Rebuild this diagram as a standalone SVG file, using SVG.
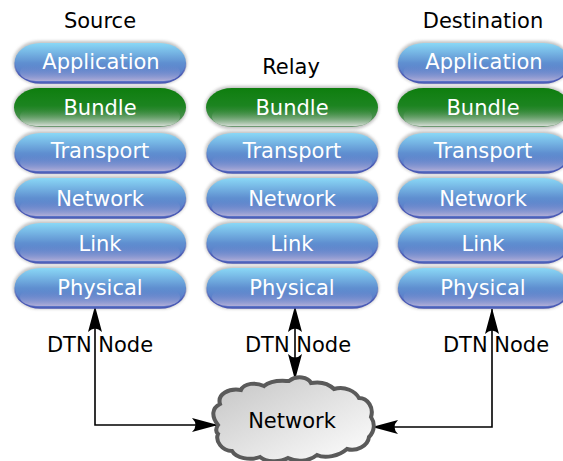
<svg xmlns="http://www.w3.org/2000/svg" xmlns:xlink="http://www.w3.org/1999/xlink" width="563" height="461" viewBox="0 0 563 461">
<style>
text{font-family:"DejaVu Sans",sans-serif;font-size:21px;text-anchor:middle}
.t{fill:#fff}.k{fill:#000}
.wire{fill:none;stroke:#000;stroke-width:1.6}
.shadow{fill:#888;opacity:.5;filter:url(#blur)}
.blue{fill:url(#gBlue);stroke:url(#gEdge);stroke-width:1.5}
.green{fill:url(#gGreen)}
.glowB{fill:url(#gGlowB)}
.glowG{fill:url(#gGlowG)}
.cloud{fill:url(#gCloud);stroke:#5a5a5a;stroke-width:4}
</style>
<defs>
<filter id="blur" x="-10%" y="-30%" width="120%" height="160%"><feGaussianBlur stdDeviation="1.6"/></filter>
<linearGradient id="gEdge" x1="0" y1="0" x2="0" y2="1"><stop offset=".45" stop-color="#4a5ab5" stop-opacity="0"/><stop offset=".8" stop-color="#4a5ab5"/></linearGradient>
<linearGradient id="gBlue" x1="0" y1="0" x2="0" y2="1"><stop offset="0" stop-color="#8ad8f6"/><stop offset=".5" stop-color="#5f8fd0"/><stop offset="1" stop-color="#5a70c4"/></linearGradient>
<linearGradient id="gGlowB" x1="0" y1="0" x2="0" y2="1"><stop offset=".1" stop-color="#6488cc" stop-opacity="0"/><stop offset="1" stop-color="#b0aed8"/></linearGradient>
<linearGradient id="gGreen" x1="0" y1="0" x2="0" y2="1"><stop offset="0" stop-color="#0e7e0e"/><stop offset=".45" stop-color="#1c8420"/><stop offset="1" stop-color="#6f9a74"/></linearGradient>
<linearGradient id="gGlowG" x1="0" y1="0" x2="0" y2="1"><stop offset=".1" stop-color="#3a8a3e" stop-opacity="0"/><stop offset="1" stop-color="#d4dcd4"/></linearGradient>
<linearGradient id="gCloud" x1="0" y1="0" x2="1" y2="1"><stop offset="0" stop-color="#c4c4c4"/><stop offset="1" stop-color="#fff"/></linearGradient>
<marker id="head" markerUnits="userSpaceOnUse" viewBox="0 0 26 14" markerWidth="26" markerHeight="14" refX="25" refY="7" orient="auto-start-reverse"><path d="M26 7 L0 0 Q7 7 0 14Z" fill="#000"/></marker>
<g id="pB"><rect class="shadow" x="-1" y="-2" width="174" height="43" rx="26" ry="21"/><rect class="blue" x="0.500" y="0" width="171.500" height="40" rx="26" ry="20"/><rect class="glowB" x="6" y="20" width="160" height="18" rx="16" ry="9"/></g>
<g id="pG"><rect class="shadow" x="-1" y="-2" width="174" height="43" rx="26" ry="21"/><rect class="green" x="0" y="0" width="172" height="39" rx="26" ry="19.500"/><rect class="glowG" x="6" y="19" width="160" height="19" rx="16" ry="9.500"/></g>
</defs>
<rect width="563" height="461" fill="#fff"/>
<g id="connectors">
<path class="wire" d="M95 307V425H217" marker-start="url(#head)" marker-end="url(#head)"/>
<path class="wire" d="M295 307V379" marker-start="url(#head)" marker-end="url(#head)"/>
<path class="wire" d="M492 309V427H373" marker-start="url(#head)" marker-end="url(#head)"/>
</g>
<g id="labels">
<text class="k" x="100" y="27.500">Source</text>
<text class="k" x="291" y="73.500">Relay</text>
<text class="k" x="483" y="27.500">Destination</text>
<text class="k" x="100" y="351.500">DTN Node</text>
<text class="k" x="298" y="351.500">DTN Node</text>
<text class="k" x="496" y="351.500">DTN Node</text>
</g>
<g id="source">
<g id="s-app"><use href="#pB" x="14" y="43"/><text class="t" x="101" y="68.500">Application</text></g>
<g id="s-bundle"><use href="#pG" x="14" y="88"/><text class="t" x="100" y="114.500">Bundle</text></g>
<g id="s-transport"><use href="#pB" x="14" y="133"/><text class="t" x="100" y="157.500">Transport</text></g>
<g id="s-network"><use href="#pB" x="14" y="178"/><text class="t" x="100" y="205.500">Network</text></g>
<g id="s-link"><use href="#pB" x="14" y="223"/><text class="t" x="100" y="250.500">Link</text></g>
<g id="s-physical"><use href="#pB" x="14" y="268"/><text class="t" x="100" y="294.500">Physical</text></g>
</g>
<g id="relay">
<g id="r-bundle"><use href="#pG" x="206" y="88"/><text class="t" x="292" y="114.500">Bundle</text></g>
<g id="r-transport"><use href="#pB" x="206" y="133"/><text class="t" x="292" y="157.500">Transport</text></g>
<g id="r-network"><use href="#pB" x="206" y="178"/><text class="t" x="292" y="205.500">Network</text></g>
<g id="r-link"><use href="#pB" x="206" y="223"/><text class="t" x="292" y="250.500">Link</text></g>
<g id="r-physical"><use href="#pB" x="206" y="268"/><text class="t" x="292" y="294.500">Physical</text></g>
</g>
<g id="destination">
<g id="d-app"><use href="#pB" x="397.500" y="43"/><text class="t" x="484" y="68.500">Application</text></g>
<g id="d-bundle"><use href="#pG" x="397.500" y="88"/><text class="t" x="483" y="114.500">Bundle</text></g>
<g id="d-transport"><use href="#pB" x="397.500" y="133"/><text class="t" x="483" y="157.500">Transport</text></g>
<g id="d-network"><use href="#pB" x="397.500" y="178"/><text class="t" x="483" y="205.500">Network</text></g>
<g id="d-link"><use href="#pB" x="397.500" y="223"/><text class="t" x="483" y="250.500">Link</text></g>
<g id="d-physical"><use href="#pB" x="397.500" y="268"/><text class="t" x="483" y="294.500">Physical</text></g>
</g>
<g id="network">
<path class="cloud" d="M218 425C211 416 212 408 220 404C217 394 229 388 241 390C244 383 256 382 264 386C272 379 284 381 289 381C297 375 308 377 311 383C322 381 330 385 334 389C345 386 355 391 359 398C368 398 374 408 371 417C375 423 375 431 369 437C368 446 356 452 347 449C339 456 325 459 317 455C308 462 296 462 288 458C279 463 266 462 260 457C250 461 236 458 232 451C222 451 215 441 218 434C215 431 216 428 218 425Z"/>
<text class="k" x="292" y="427.500">Network</text>
</g>
</svg>
